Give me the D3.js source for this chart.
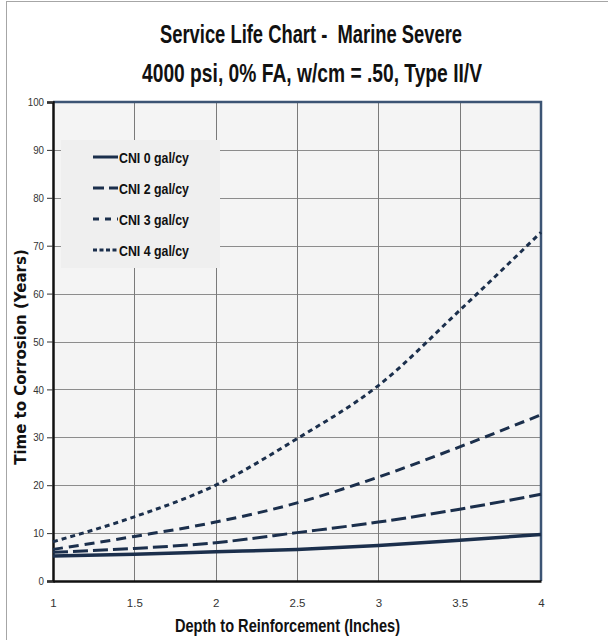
<!DOCTYPE html>
<html><head><meta charset="utf-8">
<script src="https://cdn.jsdelivr.net/npm/d3@7"></script>
<style>body{margin:0;background:#fff}svg{display:block}</style>
</head><body><svg id="c" width="608" height="640"></svg>
<script>
const depths = [1, 1.5, 2, 2.5, 3, 3.5, 4];
const cni0 = [5.2, 5.6, 6.1, 6.6, 7.4, 8.5, 9.7];
const cni2 = [6.0, 6.8, 8.0, 10.1, 12.3, 15.0, 18.1];
const cni3 = [6.6, 9.3, 12.3, 16.3, 21.7, 28.0, 34.7];
const cni4 = [8.2, 13.4, 20.0, 29.7, 40.8, 56.5, 72.8];
const seriesNames = ["CNI 0 gal/cy", "CNI 2 gal/cy", "CNI 3 gal/cy", "CNI 4 gal/cy"];
const xTicks = [1, 1.5, 2, 2.5, 3, 3.5, 4];
const yTicks = [0, 10, 20, 30, 40, 50, 60, 70, 80, 90, 100];
const titleLines = ["Service Life Chart -  Marine Severe", "4000 psi, 0% FA, w/cm = .50, Type II/V"];

const series = [cni0, cni2, cni3, cni4];
const dashes = [null, "15,5", "10,6", "5,4"];
const widths = [3.5, 3, 3, 3];
const navy = "#1b2f4c";
const narrow = "'Liberation Sans',Arial,sans-serif";

const svg = d3.select("#c");
const L = 53, R = 541, T = 102, B = 581;
const x = d3.scaleLinear().domain([1, 4]).range([L, R]);
const y = d3.scaleLinear().domain([0, 100]).range([B, T]);

function squeezed(sel, len) {
  return sel.attr("textLength", len).attr("lengthAdjust", "spacingAndGlyphs");
}

// outer frame
svg.append("rect").attr("x", 6.5).attr("y", 1.5).attr("width", 640).attr("height", 700)
  .attr("fill", "none").attr("stroke", "#a6a6a6").attr("stroke-width", 1);

// titles
squeezed(svg.append("text").attr("x", 160).attr("y", 43).style("white-space", "pre")
  .attr("font-family", narrow).attr("font-weight", "bold").attr("font-size", 26)
  .attr("fill", "#111").text(titleLines[0]), 302);
squeezed(svg.append("text").attr("x", 142).attr("y", 82)
  .attr("font-family", narrow).attr("font-weight", "bold").attr("font-size", 26)
  .attr("fill", "#111").text(titleLines[1]), 340);

// plot bg
svg.append("rect").attr("x", L).attr("y", T).attr("width", R - L).attr("height", B - T).attr("fill", "#f4f4f4");

// grid
svg.append("g").selectAll("line").data(yTicks.filter(d => d > 0 && d < 100)).join("line")
  .attr("x1", L).attr("x2", R).attr("y1", d => Math.round(y(d)) + 0.5).attr("y2", d => Math.round(y(d)) + 0.5)
  .attr("stroke", "#8c8c8c").attr("stroke-width", 1);
svg.append("g").selectAll("line").data(xTicks.filter(d => d > 1 && d < 4)).join("line")
  .attr("x1", d => Math.round(x(d)) + 0.5).attr("x2", d => Math.round(x(d)) + 0.5).attr("y1", T).attr("y2", B)
  .attr("stroke", "#7a7a7a").attr("stroke-width", 1);

// top and right frame
svg.append("path").attr("d", `M${L},${T}H${R}V${B}`).attr("fill", "none").attr("stroke", "#3c5474").attr("stroke-width", 2.5);

// axes
const yAxis = d3.axisLeft(y).tickValues(yTicks).tickSize(6).tickPadding(3);
const gy = svg.append("g").attr("transform", `translate(${L},0)`).call(yAxis);
gy.select(".domain").attr("stroke", "#111").attr("stroke-width", 2.5);
gy.selectAll(".tick line").attr("stroke", "#333");
gy.selectAll("text").attr("font-family", narrow).attr("font-size", 11.5).attr("fill", "#333")
  .attr("transform", "scale(0.85,1)").attr("x", -9 / 0.85);

const xAxis = d3.axisBottom(x).tickValues(xTicks).tickFormat(d3.format("")).tickSize(0).tickPadding(18);
const gx = svg.append("g").attr("transform", `translate(0,${B})`).call(xAxis);
gx.select(".domain").attr("stroke", "#111").attr("stroke-width", 2.5);
gx.selectAll("text").attr("font-family", narrow).attr("font-size", 11.5).attr("fill", "#333");

// legend box
svg.append("rect").attr("x", 61).attr("y", 140).attr("width", 159).attr("height", 128).attr("fill", "#efefef");

// lines
const line = d3.line().x((d, i) => x(depths[i])).y(d => y(d)).curve(d3.curveMonotoneX);
series.forEach((s, k) => {
  svg.append("path").datum(s).attr("d", line).attr("fill", "none")
    .attr("stroke", navy).attr("stroke-width", widths[k])
    .attr("stroke-dasharray", dashes[k]);
});

// legend
const legDash = [null, "11,5", "6,6", "4,2.5"];
const rows = [157, 188, 219, 250];
seriesNames.forEach((n, k) => {
  svg.append("line").attr("x1", 93).attr("x2", 118).attr("y1", rows[k]).attr("y2", rows[k])
    .attr("stroke", navy).attr("stroke-width", 3).attr("stroke-dasharray", legDash[k]);
  squeezed(svg.append("text").attr("x", 119).attr("y", rows[k] + 5.5).attr("font-family", narrow)
    .attr("font-weight", "bold").attr("font-size", 15).attr("fill", "#111").text(n), 70);
});

// axis titles
svg.append("text").attr("transform", "translate(26,357) rotate(-90)").attr("text-anchor", "middle")
  .attr("font-family", "'DejaVu Sans',Verdana,sans-serif").attr("font-weight", "bold").attr("font-size", 15)
  .attr("fill", "#111").text("Time to Corrosion (Years)");
squeezed(svg.append("text").attr("x", 175).attr("y", 632)
  .attr("font-family", narrow).attr("font-weight", "bold").attr("font-size", 18)
  .attr("fill", "#111").text("Depth to Reinforcement (Inches)"), 225);
</script></body></html>
